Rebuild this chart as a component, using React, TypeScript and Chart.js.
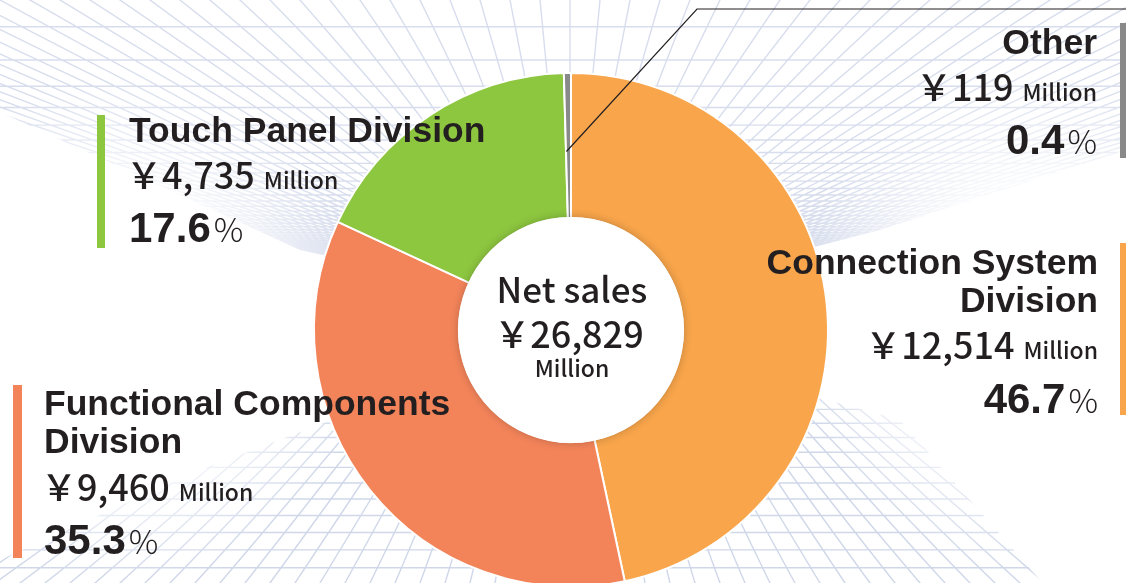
import React, { useEffect, useRef } from 'react';
import { Chart, registerables } from 'chart.js';

Chart.register(...registerables);

// ---------- data ----------
const categories = [
  'Connection System Division',
  'Functional Components Division',
  'Touch Panel Division',
  'Other',
];
const salesMillion = [12514, 9460, 4735, 119];
const sharePercent = [46.7, 35.3, 17.6, 0.4];
const titleLines = [
  ['Connection System', 'Division'],
  ['Functional Components', 'Division'],
  ['Touch Panel Division'],
  ['Other'],
];
const sliceColors = ['#F8A54B', '#F3845A', '#8DC63F', '#898989'];
const centerTitle = 'Net sales';
const totalSalesMillion = 26829;
const unitLabel = 'Million';
const currencySymbol = '\uFFE5';

// ---------- layout ----------
const W = 1126;
const H = 583;
const CANVAS_H = 660;

type LabelLayout = {
  x: number;
  align: 'left' | 'right';
  titleY: number[];
  valueY: number;
  pctY: number;
  bar: { x: number; y: number; w: number; h: number };
};

const labelLayout: LabelLayout[] = [
  { x: 1098, align: 'right', titleY: [274, 312], valueY: 359, pctY: 413, bar: { x: 1120, y: 243, w: 6, h: 172 } },
  { x: 44, align: 'left', titleY: [415, 453], valueY: 501, pctY: 554, bar: { x: 13, y: 385, w: 9, h: 173 } },
  { x: 129, align: 'left', titleY: [142], valueY: 189, pctY: 242, bar: { x: 97, y: 115, w: 8, h: 133 } },
  { x: 1097, align: 'right', titleY: [54], valueY: 101, pctY: 154, bar: { x: 1120, y: 23, w: 6, h: 135 } },
];

const TEXT_COLOR = '#231f20';
const TITLE_FONT = "bold 35.5px 'Liberation Sans', Arial, sans-serif";
const VALUE_FONT = "500 36px 'Noto Sans CJK JP', 'Noto Sans', sans-serif";
const CENTER_FONT = "500 35px 'Noto Sans CJK JP', 'Noto Sans', sans-serif";
const UNIT_FONT = "500 23px 'Noto Sans CJK JP', 'Noto Sans', sans-serif";
const PCT_FONT = "bold 42px 'Liberation Sans', Arial, sans-serif";
const PCT_SIGN_FONT = "300 33px 'Noto Sans CJK JP', 'Noto Sans', sans-serif";

type Run = { text: string; font: string; gap?: number };

function drawRuns(ctx: CanvasRenderingContext2D, runs: Run[], x: number, y: number, align: 'left' | 'right' | 'center') {
  const widths = runs.map((r) => {
    ctx.font = r.font;
    return ctx.measureText(r.text).width;
  });
  const total = widths.reduce((a, b) => a + b, 0) + runs.reduce((a, r) => a + (r.gap || 0), 0);
  let cx = align === 'right' ? x - total : align === 'center' ? x - total / 2 : x;
  runs.forEach((r, i) => {
    cx += r.gap || 0;
    ctx.font = r.font;
    ctx.fillText(r.text, cx, y);
    cx += widths[i];
  });
}

function drawGrid(ctx: CanvasRenderingContext2D) {
  ctx.save();
  ctx.fillStyle = '#ffffff';
  ctx.fillRect(0, 0, W, CANVAS_H);
  ctx.lineWidth = 1.4;

  // ceiling plane
  ctx.save();
  ctx.strokeStyle = 'rgba(160,175,212,0.42)';
  ctx.beginPath();
  ctx.moveTo(0, 0);
  ctx.lineTo(W, 0);
  ctx.lineTo(W, 150);
  ctx.lineTo(880, 230);
  ctx.lineTo(570, 310);
  ctx.lineTo(300, 250);
  ctx.lineTo(0, 112);
  ctx.closePath();
  ctx.clip();
  const cvx = 570;
  const cvy = 310;
  ctx.beginPath();
  for (let n = -2; n < 60; n++) {
    const d = 1 / (0.00353 + 0.00047 * n);
    if (d < 40) break;
    const y = cvy - d;
    ctx.moveTo(0, y);
    ctx.lineTo(W, y);
  }
  for (let i = -70; i <= 70; i++) {
    const k = 360 / 310;
    const ex = cvx + 30 * i * k;
    const ey = cvy - 360;
    const t = 45 / 360;
    ctx.moveTo(cvx + (ex - cvx) * t, cvy + (ey - cvy) * t);
    ctx.lineTo(ex, ey);
  }
  ctx.stroke();
  ctx.restore();

  // floor plane
  ctx.save();
  ctx.strokeStyle = 'rgba(160,175,212,0.5)';
  ctx.beginPath();
  ctx.moveTo(0, CANVAS_H);
  ctx.lineTo(0, 560);
  ctx.lineTo(200, 470);
  ctx.lineTo(570, 330);
  ctx.lineTo(900, 420);
  ctx.lineTo(1110, CANVAS_H);
  ctx.closePath();
  ctx.clip();
  const fvx = 570;
  const fvy = 170;
  ctx.beginPath();
  for (let k = 0; k < 20; k++) {
    const y = 586 - 18.5 * k * (1 - 0.012 * k);
    if (y < 345) break;
    ctx.moveTo(0, y);
    ctx.lineTo(W, y);
  }
  for (let i = -70; i <= 70; i++) {
    const dd = 583 - fvy;
    const k = (CANVAS_H - fvy) / dd;
    const ex = fvx + 25 * i * k;
    const ey = CANVAS_H;
    const t = 0.4;
    ctx.moveTo(fvx + (ex - fvx) * t, fvy + (ey - fvy) * t);
    ctx.lineTo(ex, ey);
  }
  ctx.stroke();
  ctx.restore();

  // soften grid close to the middle sides
  const g1 = ctx.createRadialGradient(120, 330, 10, 120, 330, 250);
  g1.addColorStop(0, 'rgba(255,255,255,1)');
  g1.addColorStop(0.55, 'rgba(255,255,255,0.85)');
  g1.addColorStop(1, 'rgba(255,255,255,0)');
  ctx.fillStyle = g1;
  ctx.fillRect(0, 0, W, CANVAS_H);
  const g2 = ctx.createRadialGradient(1040, 320, 10, 1040, 320, 250);
  g2.addColorStop(0, 'rgba(255,255,255,1)');
  g2.addColorStop(0.55, 'rgba(255,255,255,0.85)');
  g2.addColorStop(1, 'rgba(255,255,255,0)');
  ctx.fillStyle = g2;
  ctx.fillRect(0, 0, W, CANVAS_H);
  ctx.restore();
}

const decorPlugin = {
  id: 'decor',
  beforeDraw(chart: any) {
    drawGrid(chart.ctx);
  },
  afterDatasetsDraw(chart: any) {
    const ctx: CanvasRenderingContext2D = chart.ctx;
    const meta = chart.getDatasetMeta(0);
    const arc0 = meta.data[0] as any;
    if (!arc0) return;
    const cx = arc0.x;
    const cy = arc0.y;
    const ir = arc0.innerRadius;
    ctx.save();
    ctx.beginPath();
    ctx.arc(cx, cy, ir + 1, 0, Math.PI * 2);
    ctx.fillStyle = '#ffffff';
    ctx.shadowColor = 'rgba(0,0,0,0.22)';
    ctx.shadowBlur = 9;
    ctx.fill();
    ctx.restore();

    // centre text
    ctx.save();
    ctx.fillStyle = TEXT_COLOR;
    ctx.textBaseline = 'alphabetic';
    drawRuns(ctx, [{ text: centerTitle, font: CENTER_FONT }], cx + 1, 303, 'center');
    drawRuns(ctx, [{ text: currencySymbol + totalSalesMillion.toLocaleString('en-US'), font: VALUE_FONT }], cx - 2, 348, 'center');
    drawRuns(ctx, [{ text: unitLabel, font: UNIT_FONT }], cx + 1, 377, 'center');
    ctx.restore();
  },
  afterDraw(chart: any) {
    const ctx: CanvasRenderingContext2D = chart.ctx;
    const meta = chart.getDatasetMeta(0);
    ctx.save();
    // leader line for the smallest slice
    const otherArc = meta.data[3] as any;
    if (otherArc) {
      const p = otherArc.getCenterPoint();
      ctx.beginPath();
      ctx.moveTo(p.x - 2, p.y + 6);
      ctx.lineTo(697, 9);
      ctx.lineTo(W, 9);
      ctx.strokeStyle = '#231f20';
      ctx.lineWidth = 1.2;
      ctx.stroke();
    }

    ctx.fillStyle = TEXT_COLOR;
    ctx.textBaseline = 'alphabetic';
    categories.forEach((_, i) => {
      const L = labelLayout[i];
      ctx.fillStyle = sliceColors[i];
      ctx.fillRect(L.bar.x, L.bar.y, L.bar.w, L.bar.h);
      ctx.fillStyle = TEXT_COLOR;
      titleLines[i].forEach((line, j) => {
        drawRuns(ctx, [{ text: line, font: TITLE_FONT }], L.x, L.titleY[j], L.align);
      });
      drawRuns(
        ctx,
        [
          { text: currencySymbol + salesMillion[i].toLocaleString('en-US'), font: VALUE_FONT },
          { text: unitLabel, font: UNIT_FONT, gap: 9 },
        ],
        L.align === 'left' ? L.x - 3 : L.x,
        L.valueY,
        L.align
      );
      drawRuns(
        ctx,
        [
          { text: sharePercent[i].toFixed(1), font: PCT_FONT },
          { text: '%', font: PCT_SIGN_FONT, gap: 3 },
        ],
        L.x,
        L.pctY,
        L.align
      );
    });
    ctx.restore();
  },
};

export default function App() {
  const canvasRef = useRef<HTMLCanvasElement | null>(null);

  useEffect(() => {
    document.body.style.margin = '0';
    const canvas = canvasRef.current;
    if (!canvas) return;
    const chart = new Chart(canvas, {
      type: 'doughnut',
      data: {
        labels: categories,
        datasets: [
          {
            data: salesMillion,
            backgroundColor: sliceColors,
            borderColor: '#ffffff',
            borderWidth: 2,
          },
        ],
      },
      options: {
        responsive: false,
        animation: false,
        devicePixelRatio: 1,
        radius: 257,
        cutout: '43.6%',
        rotation: 0,
        layout: { padding: { left: 16, right: 0, top: 0, bottom: 0 } },
        plugins: {
          legend: { display: false },
          tooltip: { enabled: false },
        },
        events: [],
      } as any,
      plugins: [decorPlugin],
    });
    return () => chart.destroy();
  }, []);

  return (
    <div style={{ width: W, height: H, overflow: 'hidden', position: 'relative', background: '#fff' }}>
      <canvas ref={canvasRef} width={W} height={CANVAS_H} style={{ display: 'block' }} />
    </div>
  );
}
